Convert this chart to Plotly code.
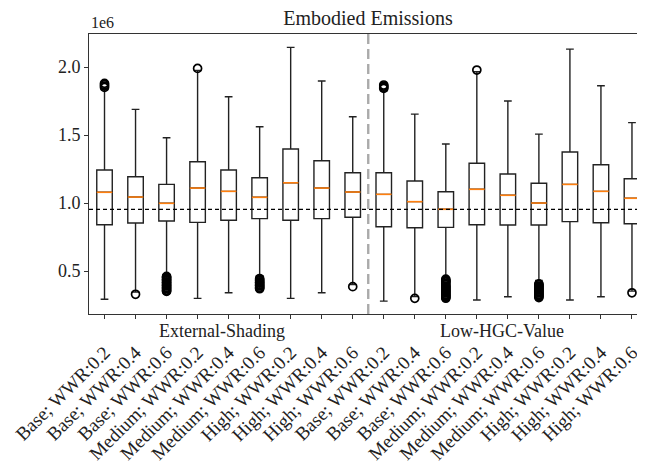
import plotly.graph_objects as go

SCALE = 1e6
title = "Embodied Emissions"
groups = ["External-Shading", "Low-HGC-Value"]
cases = ["Base; WWR:0.2", "Base; WWR:0.4", "Base; WWR:0.6",
         "Medium; WWR:0.2", "Medium; WWR:0.4", "Medium; WWR:0.6",
         "High; WWR:0.2", "High; WWR:0.4", "High; WWR:0.6"]
tick_labels = cases + cases

q1 = [0.840, 0.853, 0.868, 0.858, 0.873, 0.885, 0.873, 0.885, 0.895,
      0.826, 0.818, 0.821, 0.840, 0.838, 0.838, 0.863, 0.855, 0.848]
median = [1.079, 1.044, 0.998, 1.110, 1.086, 1.042, 1.149, 1.110, 1.081,
          1.064, 1.010, 0.954, 1.101, 1.057, 1.000, 1.137, 1.086, 1.035]
q3 = [1.243, 1.193, 1.137, 1.304, 1.243, 1.186, 1.397, 1.311, 1.223,
      1.223, 1.162, 1.083, 1.292, 1.213, 1.145, 1.375, 1.282, 1.179]
lower = [0.292, 0.345, 0.475, 0.299, 0.340, 0.465, 0.299, 0.340, 0.400,
         0.279, 0.312, 0.450, 0.287, 0.311, 0.430, 0.287, 0.311, 0.352]
upper = [1.835, 1.689, 1.480, 1.975, 1.782, 1.561, 2.145, 1.897, 1.635,
         1.825, 1.654, 1.434, 1.965, 1.750, 1.507, 2.132, 1.863, 1.591]
outliers = [
    [1.88, 1.87, 1.86, 1.85],
    [0.329],
    [0.35, 0.355, 0.36, 0.37, 0.375, 0.38, 0.39, 0.395, 0.40, 0.41, 0.415,
     0.42, 0.43, 0.435, 0.44, 0.45, 0.455, 0.46],
    [1.99],
    [],
    [0.37, 0.375, 0.38, 0.39, 0.395, 0.40, 0.41, 0.415, 0.42, 0.43, 0.435, 0.445],
    [], [],
    [0.385],
    [1.868, 1.86, 1.85, 1.843],
    [0.299],
    [0.30, 0.305, 0.31, 0.32, 0.325, 0.33, 0.34, 0.345, 0.35, 0.36, 0.365,
     0.37, 0.38, 0.385, 0.39, 0.40, 0.41, 0.42, 0.425, 0.43, 0.44],
    [1.978],
    [],
    [0.305, 0.31, 0.32, 0.325, 0.33, 0.34, 0.345, 0.35, 0.36, 0.365, 0.37,
     0.38, 0.385, 0.39, 0.40, 0.405],
    [], [],
    [0.34],
]
reference_level = 0.954
y_ticks = [0.5, 1.0, 1.5, 2.0]

positions = list(range(len(tick_labels)))
BOX_W = 0.5
FONT = "Liberation Serif"
INK = "#222222"

# page body has an 8px margin: figure is sized to fit inside the 645x470 window
FIG_W, FIG_H = 637, 462
ML, MT, MB = 81, 26, 156
PLOT_W = FIG_W - ML

fig = go.Figure()
fig.add_trace(go.Box(
    x=positions,
    q1=[v * SCALE for v in q1],
    median=[v * SCALE for v in median],
    q3=[v * SCALE for v in q3],
    lowerfence=[v * SCALE for v in lower],
    upperfence=[v * SCALE for v in upper],
    width=BOX_W, whiskerwidth=0.5,
    line=dict(color=INK, width=1.4),
    fillcolor="rgba(255,255,255,0)",
    boxpoints=False, showlegend=False, hoverinfo="skip",
))

# orange median lines
mx, my = [], []
for p, m in zip(positions, median):
    mx += [p - BOX_W / 2, p + BOX_W / 2, None]
    my += [m * SCALE, m * SCALE, None]
fig.add_trace(go.Scatter(x=mx, y=my, mode="lines",
                         line=dict(color="#ff7f0e", width=1.6),
                         showlegend=False, hoverinfo="skip"))

# outliers
ox, oy = [], []
for p, vals in zip(positions, outliers):
    for v in vals:
        ox.append(p)
        oy.append(v * SCALE)
fig.add_trace(go.Scatter(x=ox, y=oy, mode="markers",
                         marker=dict(symbol="circle-open", size=8,
                                     line=dict(color="black", width=1.7), color="black"),
                         showlegend=False, hoverinfo="skip"))

fig.add_hline(y=reference_level * SCALE, line=dict(color="black", width=1.2, dash="4px,3px"))
fig.add_vline(x=(len(cases) - 0.5), line=dict(color="#aaaaaa", width=2.4, dash="10px,5px"))

fig.update_layout(
    width=FIG_W, height=FIG_H,
    margin=dict(l=ML, r=0, t=MT, b=MB, autoexpand=False),
    paper_bgcolor="white", plot_bgcolor="white",
    font=dict(family=FONT, color=INK, size=18),
    title=dict(text=title, x=360 / FIG_W, xanchor="center", xref="container",
               y=1 - 10 / FIG_H, yanchor="middle", yref="container",
               font=dict(size=20, family=FONT, color=INK)),
)
fig.update_xaxes(
    range=[-0.5, 17.42], tickmode="array", tickvals=positions, ticktext=tick_labels,
    tickangle=-45, ticks="outside", ticklen=4, tickcolor="#333333",
    showline=True, linecolor="#333333", linewidth=1, mirror=True,
    showgrid=False, zeroline=False, tickfont=dict(size=19, family=FONT),
    ticklabelstandoff=15, ticklabelshift=0, automargin=False,
)
fig.update_yaxes(
    range=[0.184 * SCALE, 2.243 * SCALE], tickmode="array",
    tickvals=[t * SCALE for t in y_ticks], ticktext=[f"{t:.1f}" for t in y_ticks],
    ticks="outside", ticklen=4, tickcolor="#333333",
    showline=True, linecolor="#333333", linewidth=1, mirror=False,
    showgrid=False, zeroline=False, tickfont=dict(size=18, family=FONT),
    automargin=False,
)

fig.add_annotation(text="1e6", xref="paper", yref="paper", x=0, y=1,
                   xanchor="left", yanchor="bottom", xshift=0, yshift=1,
                   showarrow=False, font=dict(size=16, family=FONT))
centers = [214, 494]
for g, c in zip(groups, centers):
    fig.add_annotation(text=g, xref="paper", yref="paper",
                       x=(c - ML) / PLOT_W, y=0, yshift=-17,
                       xanchor="center", yanchor="middle", showarrow=False,
                       font=dict(size=18, family=FONT))

fig.write_html("out.html")
